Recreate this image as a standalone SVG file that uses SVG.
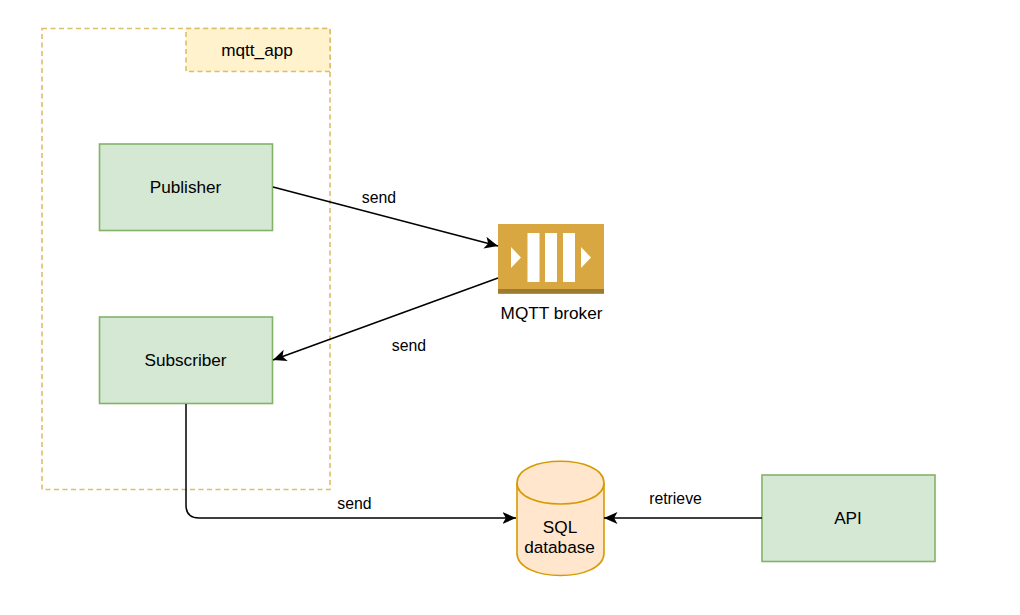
<svg xmlns="http://www.w3.org/2000/svg" width="1020" height="615" viewBox="0 0 1020 615">
<style>
text{font-family:"Liberation Sans",Arial,sans-serif;font-size:17.2px;fill:#000;text-anchor:middle}
text.lbl{font-size:15.8px}
.box{fill:#d5e8d4;stroke:#82b366;stroke-width:1.6}
.dash{stroke:#dcbf69;stroke-width:1.6;stroke-dasharray:5 3.5}
.edge{fill:none;stroke:#000;stroke-width:1.5;marker-end:url(#arrow)}
</style>
<defs>
<marker id="arrow" markerUnits="userSpaceOnUse" markerWidth="16" markerHeight="14" refX="13.500" refY="6" orient="auto">
<path d="M0 0L13.500 6L0 12L3.400 6Z" fill="#000"/>
</marker>
</defs>
<rect width="1020" height="615" fill="#fff"/>
<g id="mqtt_app_container">
<rect x="42" y="28.500" width="288" height="461" fill="none" class="dash"/>
</g>
<g id="mqtt_app_label">
<rect x="186" y="28.500" width="144" height="43" fill="#fff2cc" class="dash"/>
<text x="257" y="56">mqtt_app</text>
</g>
<g id="publisher">
<rect x="99.500" y="144" width="173" height="86.500" class="box"/>
<text x="185.500" y="193">Publisher</text>
</g>
<g id="subscriber">
<rect x="99.500" y="317" width="173" height="86.500" class="box"/>
<text x="185.500" y="366">Subscriber</text>
</g>
<g id="api">
<rect x="762" y="475" width="173" height="86.500" class="box"/>
<text x="848" y="524">API</text>
</g>
<g id="mqtt_broker">
<rect x="498" y="224" width="106" height="70" fill="#d9a741"/>
<rect x="498" y="289" width="106" height="4.500" fill="#9c7a34"/>
<rect x="527.500" y="233" width="12" height="49" fill="#fff"/>
<rect x="545" y="233" width="12" height="49" fill="#fff"/>
<rect x="563" y="233" width="12" height="49" fill="#fff"/>
<path d="M511 247L521 257.500L511 268Z" fill="#fff"/>
<path d="M581 247L591 257.500L581 268Z" fill="#fff"/>
<text x="551.500" y="319">MQTT broker</text>
</g>
<g id="sql_database">
<path d="M517 483C517 454 604 454 604 483V553C604 583 517 583 517 553Z" fill="#ffe6cc" stroke="#d79b00" stroke-width="1.6"/>
<path d="M517 483C517 511 604 511 604 483" fill="none" stroke="#d79b00" stroke-width="1.6"/>
<text x="560" y="533">SQL</text>
<text x="559.500" y="553">database</text>
</g>
<g id="connectors">
<path class="edge" d="M273 187L498 246"/>
<path class="edge" d="M498 278L273 360"/>
<path class="edge" d="M186 404V505Q186 518 199 518H516"/>
<path class="edge" d="M762 518H604"/>
<text class="lbl" x="379" y="203">send</text>
<text class="lbl" x="409" y="351">send</text>
<text class="lbl" x="354.500" y="509">send</text>
<text class="lbl" x="675.500" y="504">retrieve</text>
</g>
</svg>
